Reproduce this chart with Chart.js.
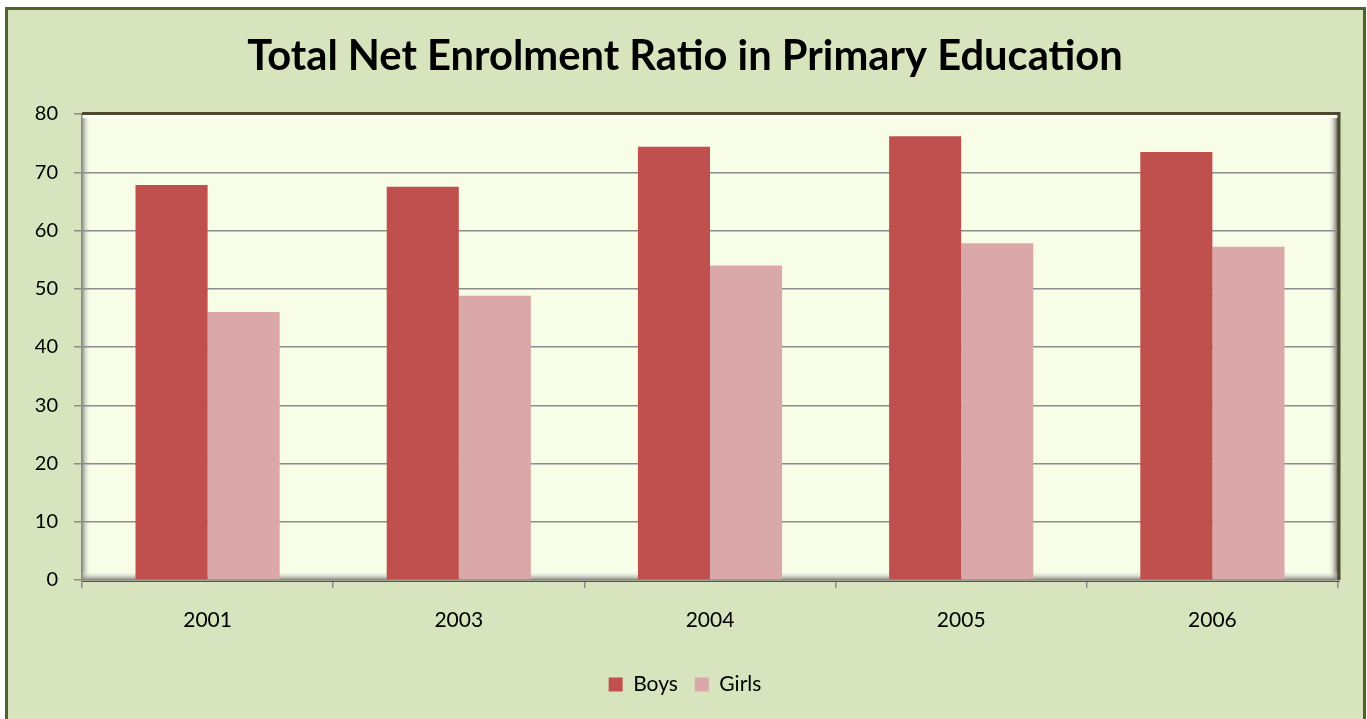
<!DOCTYPE html>
<html>
<head>
<meta charset="utf-8">
<script src="https://cdn.jsdelivr.net/npm/chart.js@4"></script>
<style>
html,body{margin:0;padding:0;background:#fff;}
#wrap{position:absolute;left:0;top:0;width:1367px;height:719px;}
</style>
</head>
<body>
<div id="wrap"><canvas id="c" width="1367" height="719"></canvas></div>
<script>
const categories = ["2001", "2003", "2004", "2005", "2006"];
const boys = [67.8, 67.5, 74.4, 76.2, 73.5];
const girls = [46.0, 48.8, 54.0, 57.8, 57.2];
const yTicks = [0, 10, 20, 30, 40, 50, 60, 70, 80];

const FONT = "Lato, 'Open Sans', sans-serif";

const framePlugin = {
  id: 'frame',
  beforeDraw(chart) {
    const ctx = chart.ctx;
    const W = chart.width, H = chart.height;
    ctx.save();
    ctx.fillStyle = '#ffffff';
    ctx.fillRect(0, 0, W, H);
    ctx.fillStyle = '#D7E4BD';
    ctx.fillRect(6, 8, W - 8, H);
    ctx.strokeStyle = '#4F6228';
    ctx.lineWidth = 3;
    ctx.beginPath();
    ctx.moveTo(6.5, H + 5);
    ctx.lineTo(6.5, 8.5);
    ctx.lineTo(W - 2.5, 8.5);
    ctx.lineTo(W - 2.5, H + 5);
    ctx.stroke();
    const a = chart.chartArea;
    ctx.fillStyle = '#F8FDE8';
    ctx.fillRect(a.left, a.top, a.right - a.left, a.bottom - a.top);
    let g = ctx.createLinearGradient(a.left, 0, a.left + 9, 0);
    g.addColorStop(0, 'rgba(110,110,100,0.75)');
    g.addColorStop(1, 'rgba(255,255,255,0)');
    ctx.fillStyle = g;
    ctx.fillRect(a.left, a.top, 9, a.bottom - a.top);
    g = ctx.createLinearGradient(a.right, 0, a.right - 10, 0);
    g.addColorStop(0, 'rgba(70,70,60,0.9)');
    g.addColorStop(1, 'rgba(255,255,255,0)');
    ctx.fillStyle = g;
    ctx.fillRect(a.right - 10, a.top, 10, a.bottom - a.top);
    g = ctx.createLinearGradient(0, a.bottom, 0, a.bottom - 9);
    g.addColorStop(0, 'rgba(120,120,110,0.9)');
    g.addColorStop(1, 'rgba(255,255,255,0)');
    ctx.fillStyle = g;
    ctx.fillRect(a.left, a.bottom - 9, a.right - a.left, 9);
    ctx.fillStyle = 'rgba(255,255,255,0.9)';
    ctx.fillRect(a.left, a.top, a.right - a.left, 4);
    ctx.restore();
  },
  afterDatasetsDraw(chart) {
    const ctx = chart.ctx;
    const a = chart.chartArea;
    ctx.save();
    ctx.strokeStyle = '#4B4A2D';
    ctx.lineWidth = 3;
    ctx.beginPath();
    ctx.moveTo(a.left, a.top - 0.5);
    ctx.lineTo(a.right + 1, a.top - 0.5);
    ctx.lineTo(a.right + 1, a.bottom);
    ctx.stroke();
    ctx.strokeStyle = '#5A5A3A';
    ctx.lineWidth = 1;
    ctx.beginPath();
    ctx.moveTo(a.left, a.bottom + 1.5);
    ctx.lineTo(a.right + 2, a.bottom + 1.5);
    ctx.stroke();
    ctx.restore();
  }
};

new Chart(document.getElementById('c'), {
  type: 'bar',
  data: {
    labels: categories,
    datasets: [
      { label: 'Boys', data: boys, backgroundColor: '#C0504D', borderWidth: 0 },
      { label: 'Girls', data: girls, backgroundColor: '#DAA8A8', borderWidth: 0 }
    ]
  },
  plugins: [framePlugin],
  options: {
    responsive: false,
    animation: false,
    devicePixelRatio: 1,
    layout: { padding: { left: 32, right: 29, top: 16, bottom: 14 } },
    datasets: { bar: { categoryPercentage: 0.574, barPercentage: 1.0 } },
    plugins: {
      title: {
        display: true,
        text: 'Total Net Enrolment Ratio in Primary Education',
        color: '#000',
        font: { family: FONT, size: 41.7, weight: 'bold' },
        padding: { top: 16, bottom: 32 }
      },
      legend: {
        position: 'bottom',
        labels: {
          color: '#000',
          font: { family: FONT, size: 21 },
          boxWidth: 14, boxHeight: 14, padding: 17
        }
      },
      tooltip: { enabled: false }
    },
    scales: {
      x: {
        afterFit(axis) { axis.height = 77; },
        grid: { display: true, drawOnChartArea: false, offset: true, tickLength: 8, color: '#8C8C8C', lineWidth: 1.5 },
        border: { display: true, color: '#8C8C8C', width: 1.5 },
        ticks: { color: '#000', font: { family: FONT, size: 21 }, padding: 20 }
      },
      y: {
        min: 0, max: 80,
        afterFit(axis) { axis.width = 50; },
        afterBuildTicks(axis) { axis.ticks = yTicks.map(v => ({ value: v })); },
        grid: { color: '#8C8C8C', lineWidth: 1.5, tickLength: 8 },
        border: { display: true, color: '#8C8C8C', width: 1.5 },
        ticks: { color: '#000', font: { family: FONT, size: 20 }, padding: 16 }
      }
    }
  }
});
</script>
</body>
</html>
